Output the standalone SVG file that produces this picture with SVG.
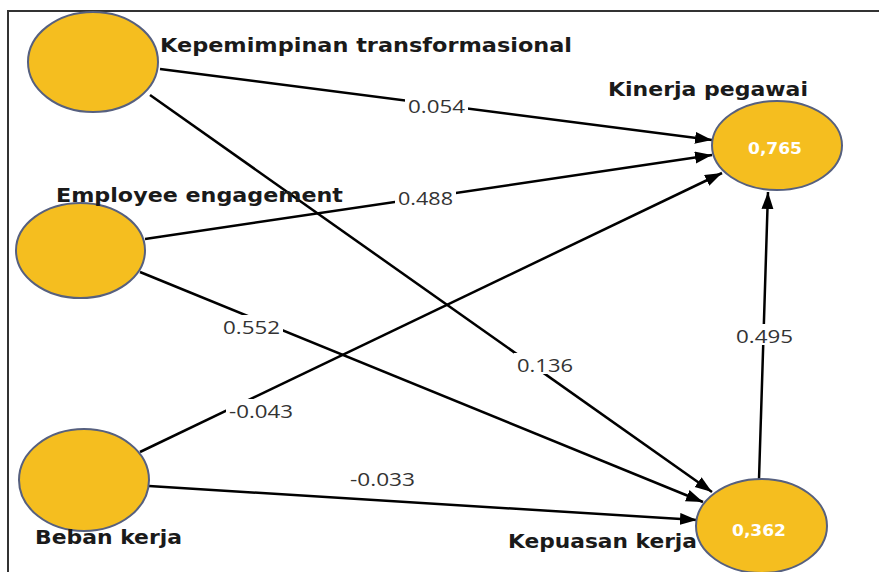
<svg xmlns="http://www.w3.org/2000/svg" width="879" height="572" viewBox="0 0 879 572">
<defs>
<style>
.node{fill:#F5BE1F;stroke:#56607F;stroke-width:2}
.lbl{font-family:"DejaVu Sans",sans-serif;font-weight:bold;font-size:19px;fill:#1a1a1a}
.val{font-family:"DejaVu Sans",sans-serif;font-weight:bold;font-size:16px;fill:#ffffff}
.edge{stroke:#000;stroke-width:2.5;fill:none;marker-end:url(#arr)}
.w{font-family:"Open Sans","DejaVu Sans",sans-serif;font-size:19px;fill:#333}
.bg{fill:#fff}
</style>
<marker id="arr" markerUnits="userSpaceOnUse" markerWidth="18" markerHeight="14" refX="17" refY="6" orient="auto">
<path d="M0,0 L17,6 L0,12 z" fill="#000"/>
</marker>
</defs>
<rect width="879" height="572" fill="#fff"/>
<path d="M8,572 L8,11 L879,11" fill="none" stroke="#333" stroke-width="2"/>
<g id="connectors">
<line class="edge" x1="160" y1="69" x2="712" y2="140"/>
<line class="edge" x1="145" y1="239" x2="712" y2="155"/>
<line class="edge" x1="140" y1="452" x2="722" y2="173"/>
<line class="edge" x1="150" y1="95" x2="712" y2="492"/>
<line class="edge" x1="140" y1="272" x2="703" y2="502"/>
<line class="edge" x1="149" y1="486" x2="697" y2="520"/>
<line class="edge" x1="759" y1="479" x2="768" y2="192"/>
<g id="weights">
<rect class="bg" x="405" y="94" width="63" height="21"/>
<text class="w" x="408" y="113" textLength="57" lengthAdjust="spacingAndGlyphs">0.054</text>
<rect class="bg" x="395" y="186" width="61" height="21"/>
<text class="w" x="398" y="205" textLength="55" lengthAdjust="spacingAndGlyphs">0.488</text>
<rect class="bg" x="220" y="315" width="63" height="21"/>
<text class="w" x="223" y="334" textLength="57" lengthAdjust="spacingAndGlyphs">0.552</text>
<rect class="bg" x="226" y="399" width="70" height="21"/>
<text class="w" x="229" y="418" textLength="64" lengthAdjust="spacingAndGlyphs">-0.043</text>
<rect class="bg" x="514" y="353" width="62" height="21"/>
<text class="w" x="517" y="372" textLength="56" lengthAdjust="spacingAndGlyphs">0.136</text>
<rect class="bg" x="733" y="324" width="63" height="21"/>
<text class="w" x="736" y="343" textLength="57" lengthAdjust="spacingAndGlyphs">0.495</text>
<text class="w" x="350" y="486" textLength="65" lengthAdjust="spacingAndGlyphs">-0.033</text>
</g>
</g>
<g id="kepemimpinan">
<ellipse class="node" cx="93" cy="62" rx="65" ry="50"/>
<text class="lbl" x="160" y="52" textLength="412" lengthAdjust="spacingAndGlyphs">Kepemimpinan transformasional</text>
</g>
<g id="employee">
<ellipse class="node" cx="80.5" cy="250.5" rx="64.5" ry="47.5"/>
<text class="lbl" x="56" y="202" textLength="287" lengthAdjust="spacingAndGlyphs">Employee engagement</text>
</g>
<g id="beban">
<ellipse class="node" cx="84" cy="480" rx="65" ry="51"/>
<text class="lbl" x="35" y="544" textLength="147" lengthAdjust="spacingAndGlyphs">Beban kerja</text>
</g>
<g id="kinerja">
<ellipse class="node" cx="777" cy="145.5" rx="65" ry="44.5"/>
<text class="lbl" x="608" y="96" textLength="200" lengthAdjust="spacingAndGlyphs">Kinerja pegawai</text>
<text class="val" x="748" y="154" textLength="54" lengthAdjust="spacingAndGlyphs">0,765</text>
</g>
<g id="kepuasan">
<ellipse class="node" cx="761.5" cy="526" rx="65.5" ry="47"/>
<text class="lbl" x="508" y="548" textLength="189" lengthAdjust="spacingAndGlyphs">Kepuasan kerja</text>
<text class="val" x="732" y="536" textLength="54" lengthAdjust="spacingAndGlyphs">0,362</text>
</g>
</svg>
